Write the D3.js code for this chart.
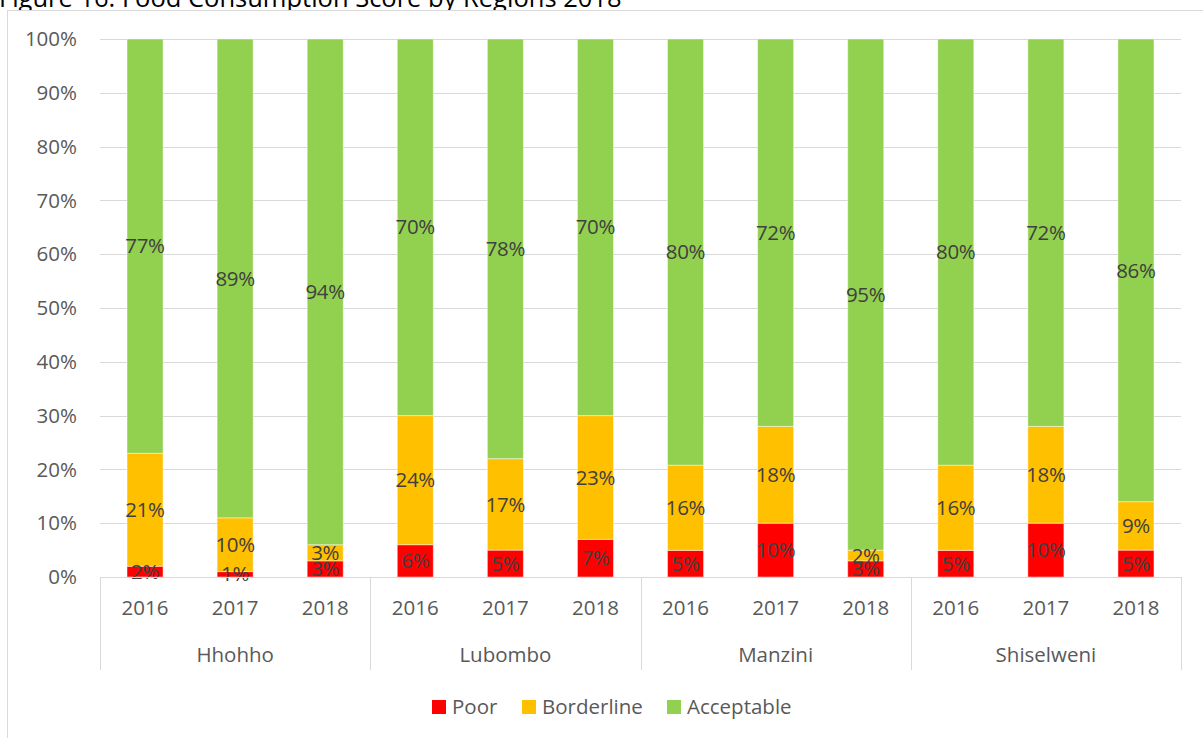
<!DOCTYPE html>
<html>
<head>
<meta charset="utf-8">
<script src="https://cdn.jsdelivr.net/npm/d3@7"></script>
<style>
  body { margin: 0; background: #fff; }
  text { font-family: "Open Sans", sans-serif; }
</style>
</head>
<body>
<div class="chart"></div>
<script>
const regions = ['Hhohho', 'Lubombo', 'Manzini', 'Shiselweni'];
const years = ['2016', '2017', '2018'];
const seriesNames = ['Poor', 'Borderline', 'Acceptable'];
// values per region, per year (in percent)
const poor       = [[2, 1, 3], [6, 5, 7], [5, 10, 3], [5, 10, 5]];
const borderline = [[21, 10, 3], [24, 17, 23], [16, 18, 2], [16, 18, 9]];
const acceptable = [[77, 89, 94], [70, 78, 70], [80, 72, 95], [80, 72, 86]];
const yTicks = [0, 0.1, 0.2, 0.3, 0.4, 0.5, 0.6, 0.7, 0.8, 0.9, 1];

const width = 1203, height = 738;
const plot = { left: 100, right: 1181, top: 39, bottom: 577 };
const fs = 20.5;
const color = d3.scaleOrdinal(seriesNames, ['#ff0000', '#ffc000', '#92d050']);

const svg = d3.select('.chart').append('svg')
  .attr('width', width)
  .attr('height', height);

// title, cut at the top like the original crop
svg.append('text')
  .attr('x', -1)
  .attr('y', 7)
  .attr('font-size', 25.5)
  .attr('fill', '#000')
  .text('Figure 16: Food Consumption Score by Regions 2018');

// chart area frame
svg.append('rect')
  .attr('x', 7.5).attr('y', 10.5)
  .attr('width', width).attr('height', height)
  .attr('fill', '#fff')
  .attr('stroke', '#d9d9d9');

const x0 = d3.scaleBand().domain(regions).range([plot.left, plot.right]);
const x1 = d3.scaleBand().domain(years).range([0, x0.bandwidth()]);
const y = d3.scaleLinear().domain([0, 1]).range([plot.bottom, plot.top]);
const barW = x1.bandwidth() * 0.4;

// gridlines
svg.append('g')
  .selectAll('line')
  .data(yTicks.slice(1))
  .join('line')
  .attr('x1', plot.left).attr('x2', plot.right)
  .attr('y1', d => Math.round(y(d)) + 0.5).attr('y2', d => Math.round(y(d)) + 0.5)
  .attr('stroke', '#d9d9d9');

// y labels
svg.append('g')
  .selectAll('text')
  .data(yTicks)
  .join('text')
  .attr('x', 77)
  .attr('y', d => y(d))
  .attr('dy', '0.35em')
  .attr('text-anchor', 'end')
  .attr('font-size', fs)
  .attr('fill', '#595959')
  .text(d3.format('.0%'));

// stacked rows
const rows = [];
regions.forEach((r, ri) => {
  years.forEach((yr, yi) => {
    const vals = [poor[ri][yi], borderline[ri][yi], acceptable[ri][yi]];
    const total = d3.sum(vals);
    let acc = 0;
    vals.forEach((v, si) => {
      rows.push({ region: r, year: yr, series: seriesNames[si], value: v,
        y0: acc / total, y1: (acc + v) / total });
      acc += v;
    });
  });
});

const bars = svg.append('g');
bars.selectAll('rect')
  .data(rows)
  .join('rect')
  .attr('x', d => x0(d.region) + x1(d.year) + (x1.bandwidth() - barW) / 2)
  .attr('y', d => y(d.y1))
  .attr('width', barW)
  .attr('height', d => y(d.y0) - y(d.y1))
  .attr('fill', d => color(d.series))
  .attr('stroke', '#ffffff')
  .attr('stroke-opacity', 0.45)
  .attr('stroke-width', 1);

bars.selectAll('text')
  .data(rows)
  .join('text')
  .attr('x', d => x0(d.region) + x1(d.year) + x1.bandwidth() / 2)
  .attr('y', d => y((d.y0 + d.y1) / 2))
  .attr('dy', '0.35em')
  .attr('text-anchor', 'middle')
  .attr('font-size', fs)
  .attr('letter-spacing', -0.3)
  .attr('fill', '#404040')
  .text(d => d.value + '%');

// category axis
const axis = svg.append('g').attr('stroke', '#d9d9d9');
axis.append('line')
  .attr('x1', plot.left).attr('x2', plot.right)
  .attr('y1', plot.bottom + 0.5).attr('y2', plot.bottom + 0.5);
axis.selectAll('line.sep')
  .data(regions.map(r => x0(r)).concat([plot.right]))
  .join('line')
  .attr('class', 'sep')
  .attr('x1', d => Math.round(d) + 0.5).attr('x2', d => Math.round(d) + 0.5)
  .attr('y1', plot.bottom).attr('y2', 670);

const yearLabels = [];
regions.forEach(r => years.forEach(yr => yearLabels.push({ region: r, year: yr })));
svg.append('g')
  .selectAll('text')
  .data(yearLabels)
  .join('text')
  .attr('x', d => x0(d.region) + x1(d.year) + x1.bandwidth() / 2)
  .attr('y', 608)
  .attr('dy', '0.35em')
  .attr('text-anchor', 'middle')
  .attr('font-size', fs)
  .attr('fill', '#595959')
  .text(d => d.year);

svg.append('g')
  .selectAll('text')
  .data(regions)
  .join('text')
  .attr('x', d => x0(d) + x0.bandwidth() / 2)
  .attr('y', 655)
  .attr('dy', '0.35em')
  .attr('text-anchor', 'middle')
  .attr('font-size', fs)
  .attr('fill', '#595959')
  .text(d => d);

// legend
const legendX = [432, 522, 667];
const legend = svg.append('g')
  .selectAll('g')
  .data(seriesNames)
  .join('g')
  .attr('transform', (d, i) => `translate(${legendX[i]},700)`);
legend.append('rect')
  .attr('width', 14).attr('height', 14)
  .attr('fill', d => color(d));
legend.append('text')
  .attr('x', 20).attr('y', 7)
  .attr('dy', '0.35em')
  .attr('font-size', fs)
  .attr('fill', '#595959')
  .text(d => d);
</script>
</body>
</html>
